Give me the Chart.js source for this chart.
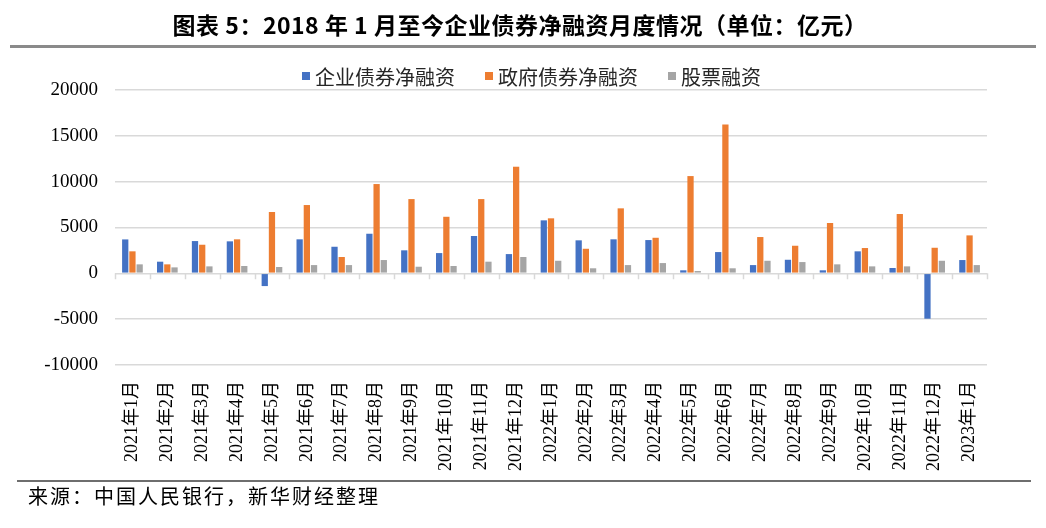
<!DOCTYPE html>
<html>
<head>
<meta charset="utf-8">
<script src="https://cdn.jsdelivr.net/npm/chart.js@4.4.1/dist/chart.umd.min.js"></script>
<style>
  html, body { margin: 0; padding: 0; background: #fff; width: 1046px; height: 528px; overflow: hidden; }
  #wrap { position: relative; width: 1046px; height: 528px; }
  #chart { position: absolute; left: 0; top: 0; }
  #title { position: absolute; left: 0; top: 11px; width: 1040px; text-align: center; letter-spacing: 0.5px;
    font-family: "Noto Sans CJK SC", sans-serif; font-weight: bold; font-size: 23px; line-height: 26px; color: #000; }
  #topline { position: absolute; left: 10px; top: 45px; width: 1026px; height: 3px; background: #8a8a8a; }
  #botline { position: absolute; left: 17px; top: 480px; width: 1014px; height: 2px; background: #6e6e6e; }
  #source { position: absolute; left: 28px; top: 484px; font-family: "Noto Sans CJK SC", sans-serif;
    font-size: 20px; line-height: 24px; letter-spacing: 2px; color: #000; }
  #legend { position: absolute; left: 302px; top: 64px; display: flex; align-items: center; height: 24px;
    font-family: "Noto Sans CJK SC", sans-serif; font-size: 20px; color: #262626; }
  .li { display: flex; align-items: center; margin-right: 30px; }
  .sw { width: 8px; height: 8px; margin-right: 5px; }
</style>
</head>
<body>
<div id="wrap">
  <canvas id="chart" width="1046" height="528"></canvas>
  <div id="title">图表 5：2018 年 1 月至今企业债券净融资月度情况（单位：亿元）</div>
  <div id="topline"></div>
  <div id="legend"></div>
  <div id="botline"></div>
  <div id="source">来源：中国人民银行，新华财经整理</div>
</div>
<script>
const categories = ["2021年1月","2021年2月","2021年3月","2021年4月","2021年5月","2021年6月","2021年7月","2021年8月","2021年9月","2021年10月","2021年11月","2021年12月","2022年1月","2022年2月","2022年3月","2022年4月","2022年5月","2022年6月","2022年7月","2022年8月","2022年9月","2022年10月","2022年11月","2022年12月","2023年1月"];
const corpBond = [3700, 1270, 3520, 3490, -1390, 3710, 2900, 4320, 2510, 2210, 4070, 2100, 5780, 3600, 3710, 3630, 330, 2320, 900, 1480, 330, 2400, 580, -4950, 1450];
const govBond = [2400, 980, 3120, 3710, 6690, 7450, 1780, 9740, 8100, 6170, 8100, 11630, 6000, 2680, 7090, 3880, 10610, 16250, 3960, 3010, 5490, 2760, 6470, 2790, 4140];
const stock = [980, 650, 760, 800, 690, 900, 900, 1450, 720, 800, 1270, 1780, 1370, 550, 900, 1120, 250, 550, 1370, 1230, 980, 760, 760, 1370, 900];
const seriesNames = ["企业债券净融资", "政府债券净融资", "股票融资"];
const seriesColors = ["#4472C4", "#ED7D31", "#A5A5A5"];
const yMin = -10000, yMax = 20000, yStep = 5000;

const zeroTicks = {
  id: 'zeroTicks',
  beforeDatasetsDraw(chart) {
    const xs = chart.scales.x, ys = chart.scales.y;
    const ctx = chart.ctx;
    const y0 = ys.getPixelForValue(0);
    const half = (xs.getPixelForValue(1) - xs.getPixelForValue(0)) / 2;
    ctx.save();
    ctx.strokeStyle = '#d9d9d9';
    ctx.lineWidth = 1.5;
    ctx.beginPath();
    for (let i = 0; i <= categories.length; i++) {
      const x = Math.round(xs.getPixelForValue(0) - half + i * 2 * half) + 0.5;
      ctx.moveTo(x, y0);
      ctx.lineTo(x, y0 + 6);
    }
    ctx.stroke();
    ctx.restore();
  }
};

const datasets = [corpBond, govBond, stock].map((d, i) => ({
  label: seriesNames[i],
  data: d,
  backgroundColor: seriesColors[i],
  borderWidth: 0,
  categoryPercentage: 0.62,
  barPercentage: 0.87
}));

const chart = new Chart(document.getElementById('chart'), {
  type: 'bar',
  data: { labels: categories, datasets },
  options: {
    responsive: false,
    animation: false,
    devicePixelRatio: 1,
    layout: { padding: { left: 0, right: 59, top: 90, bottom: 48 } },
    plugins: { legend: { display: false }, title: { display: false }, tooltip: { enabled: false } },
    scales: {
      x: {
        grid: { display: false, drawTicks: false },
        border: { display: false },
        ticks: {
          autoSkip: false, minRotation: 90, maxRotation: 90, padding: 16,
          color: '#000',
          font: { family: "'Liberation Serif', 'Noto Sans CJK SC', serif", size: 18 }
        },
        afterFit(scale) { scale.height = 115; }
      },
      y: {
        min: yMin, max: yMax,
        grid: { color: '#d9d9d9', lineWidth: 1.5, drawTicks: false },
        border: { display: false },
        ticks: {
          stepSize: yStep, padding: 17, color: '#000',
          font: { family: "'Liberation Serif', serif", size: 19 },
          callback: v => String(v)
        },
        afterFit(scale) { scale.width = 115; }
      }
    }
  },
  plugins: [zeroTicks]
});

const lg = document.getElementById('legend');
chart.data.datasets.forEach(ds => {
  const item = document.createElement('div');
  item.className = 'li';
  const sw = document.createElement('span');
  sw.className = 'sw';
  sw.style.background = ds.backgroundColor;
  const t = document.createElement('span');
  t.textContent = ds.label;
  item.appendChild(sw); item.appendChild(t);
  lg.appendChild(item);
});
</script>
</body>
</html>
